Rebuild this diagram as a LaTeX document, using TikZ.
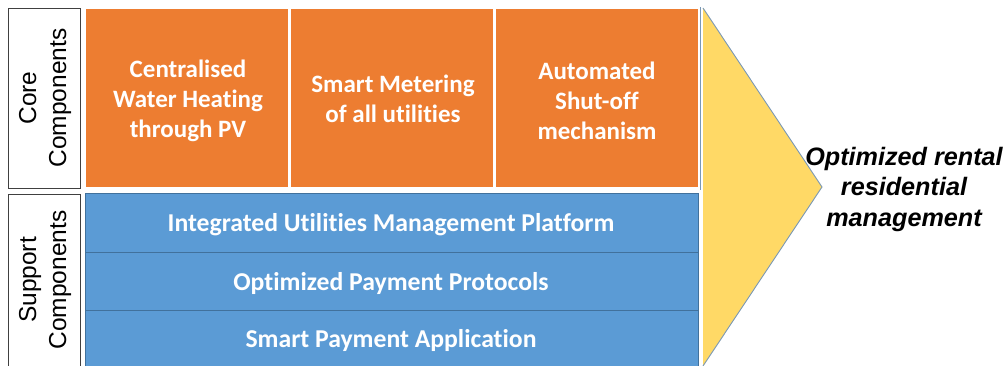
\documentclass[tikz,border=0pt]{standalone}
\usepackage{fontspec}
\setmainfont{Liberation Sans}
\newfontfamily\boxfont[Ligatures={NoCommon}]{Carlito}
\definecolor{coreorange}{HTML}{ED7D31}
\definecolor{supportblue}{HTML}{5B9BD5}
\definecolor{bluerule}{HTML}{41719C}
\definecolor{goalyellow}{HTML}{FFD966}
\definecolor{goaledge}{HTML}{7A98B5}
\begin{document}
\begin{tikzpicture}[x=1pt,y=-1pt,
  labelbox/.style={draw=black!75,line width=0.9pt,fill=white},
  labeltext/.style={rotate=90,align=center,font=\fontsize{24.5}{30}\selectfont},
  corebox/.style={fill=coreorange,draw=white,line width=2.5pt},
  supportbox/.style={fill=supportblue,draw=bluerule,line width=1pt},
  cardtext/.style={text=white,align=center,font=\boxfont\bfseries\fontsize{25}{30}\selectfont},
  rowtext/.style={cardtext,font=\boxfont\bfseries\fontsize{25.7}{30}\selectfont},
  goaltext/.style={align=center,font=\bfseries\itshape\fontsize{25.2}{30.5}\selectfont}]
\useasboundingbox (0,0) rectangle (1008,365);

% row labels
\draw[labelbox] (8,8) rectangle (80,188);
\draw[labelbox] (8,194) rectangle (80,370);
\node[labeltext] (corelbl) at (45,98) {Core\\Components};
\node[labeltext] (supportlbl) at (45,280) {Support\\Components};

% core components
\draw[corebox] (85,8) rectangle (289.5,188);
\draw[corebox] (289.5,8) rectangle (494.5,188);
\draw[corebox] (494.5,8) rectangle (699,188);
\draw[goaledge,line width=0.8pt] (700.5,7) -- (700.5,190);
\node[cardtext] (water) at (188,101) {Centralised\\Water Heating\\through PV};
\node[cardtext] (meter) at (393,99) {Smart Metering\\of all utilities};
\node[cardtext] (shutoff) at (597,101) {Automated\\Shut-off\\mechanism};

% support components
\draw[supportbox] (85,193) rectangle (698,252);
\draw[supportbox] (85,252) rectangle (698,310);
\draw[supportbox] (85,310) rectangle (698,370);
\draw[white,line width=1.5pt] (85,192) -- (698,192);
\node[rowtext] (platform) at (391,225) {Integrated Utilities Management Platform};
\node[rowtext] (protocols) at (391,283) {Optimized Payment Protocols};
\node[rowtext] (app) at (391,340) {Smart Payment Application};

% outcome
\draw[fill=goalyellow,draw=goaledge,line width=0.9pt] (703,8) -- (822,187) -- (703,366);
\node[goaltext] (goal) at (904,189) {Optimized rental\\residential\\management};
\end{tikzpicture}
\end{document}
